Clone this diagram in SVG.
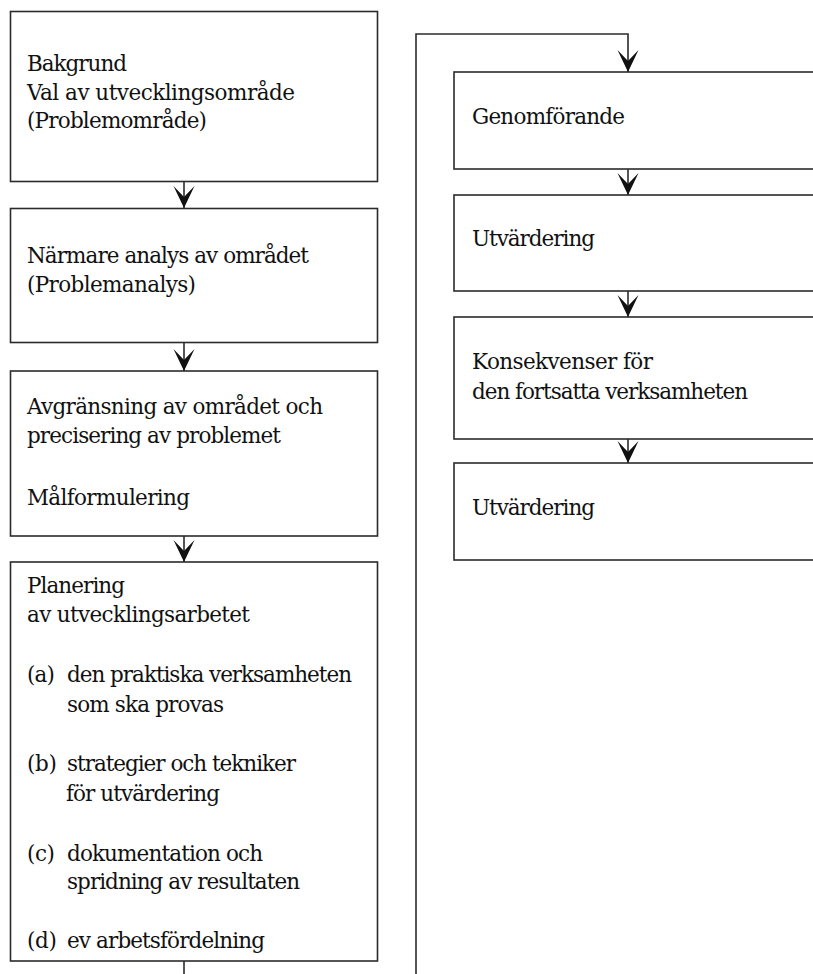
<svg xmlns="http://www.w3.org/2000/svg" width="813" height="974" viewBox="0 0 813 974">
  <style>
    .box { fill: #ffffff; stroke: #2b2b2b; stroke-width: 1.6; }
    .wire { fill: none; stroke: #2b2b2b; stroke-width: 1.6; }
    .lbl { font-family: 'DejaVu Serif', 'Liberation Serif', serif; font-size: 21.5px; fill: #111111; }
  </style>
  <defs>
    <marker id="head" markerUnits="userSpaceOnUse" viewBox="-23 -11 24 22" refX="0" refY="0" markerWidth="24" markerHeight="22" orient="auto">
      <path d="M0,0 L-22,-10.5 L-11,0 L-22,10.5 Z" fill="#111111"/>
    </marker>
  </defs>
  <rect width="813" height="974" fill="#ffffff"/>

  <!-- flow connectors -->
  <g id="connectors">
    <line class="wire" x1="184" y1="182" x2="184" y2="208" marker-end="url(#head)"/>
    <line class="wire" x1="184" y1="343" x2="184" y2="371" marker-end="url(#head)"/>
    <line class="wire" x1="184" y1="536" x2="184" y2="562" marker-end="url(#head)"/>
    <!-- loop from the planning box over to the right column -->
    <line class="wire" x1="184" y1="961" x2="184" y2="974"/>
    <polyline class="wire" points="416,974 416,34 628,34 628,72" marker-end="url(#head)"/>
    <line class="wire" x1="628" y1="169" x2="628" y2="195" marker-end="url(#head)"/>
    <line class="wire" x1="628" y1="291" x2="628" y2="317" marker-end="url(#head)"/>
    <line class="wire" x1="628" y1="439" x2="628" y2="463" marker-end="url(#head)"/>
  </g>

  <!-- left column -->
  <g id="bakgrund">
    <rect class="box" x="10.5" y="11.5" width="367" height="170"/>
    <text class="lbl" x="27" y="70.5" textLength="100" lengthAdjust="spacing">Bakgrund</text>
    <text class="lbl" x="27" y="99.5" textLength="268" lengthAdjust="spacing">Val av utvecklingsområde</text>
    <text class="lbl" x="27" y="128" textLength="180" lengthAdjust="spacing">(Problemområde)</text>
  </g>
  <g id="problemanalys">
    <rect class="box" x="10.5" y="208.5" width="367" height="134"/>
    <text class="lbl" x="27" y="263" textLength="282" lengthAdjust="spacing">Närmare analys av området</text>
    <text class="lbl" x="27" y="292" textLength="169" lengthAdjust="spacing">(Problemanalys)</text>
  </g>
  <g id="avgransning">
    <rect class="box" x="10.5" y="371" width="367" height="165"/>
    <text class="lbl" x="27" y="414" textLength="296" lengthAdjust="spacing">Avgränsning av området och</text>
    <text class="lbl" x="27" y="443" textLength="254" lengthAdjust="spacing">precisering av problemet</text>
    <text class="lbl" x="27" y="505" textLength="163" lengthAdjust="spacing">Målformulering</text>
  </g>
  <g id="planering">
    <rect class="box" x="10.5" y="562" width="367" height="399"/>
    <text class="lbl" x="27" y="593" textLength="98" lengthAdjust="spacing">Planering</text>
    <text class="lbl" x="27" y="622" textLength="223" lengthAdjust="spacing">av utvecklingsarbetet</text>
    <text class="lbl" x="27" y="682" textLength="28" lengthAdjust="spacing">(a)</text>
    <text class="lbl" x="67" y="682" textLength="285" lengthAdjust="spacing">den praktiska verksamheten</text>
    <text class="lbl" x="67" y="712" textLength="157" lengthAdjust="spacing">som ska provas</text>
    <text class="lbl" x="27" y="770.5" textLength="30" lengthAdjust="spacing">(b)</text>
    <text class="lbl" x="67" y="770.5" textLength="229" lengthAdjust="spacing">strategier och tekniker</text>
    <text class="lbl" x="66" y="800.5" textLength="154" lengthAdjust="spacing">för utvärdering</text>
    <text class="lbl" x="27" y="860.5" textLength="28" lengthAdjust="spacing">(c)</text>
    <text class="lbl" x="67" y="860.5" textLength="196" lengthAdjust="spacing">dokumentation och</text>
    <text class="lbl" x="67" y="889" textLength="233" lengthAdjust="spacing">spridning av resultaten</text>
    <text class="lbl" x="27" y="948" textLength="30" lengthAdjust="spacing">(d)</text>
    <text class="lbl" x="67" y="948" textLength="198" lengthAdjust="spacing">ev arbetsfördelning</text>
  </g>

  <!-- right column -->
  <g id="genomforande">
    <rect class="box" x="454" y="72" width="380" height="97"/>
    <text class="lbl" x="472" y="124" textLength="153" lengthAdjust="spacing">Genomförande</text>
  </g>
  <g id="utvardering-1">
    <rect class="box" x="454" y="195" width="380" height="96"/>
    <text class="lbl" x="472" y="246" textLength="123" lengthAdjust="spacing">Utvärdering</text>
  </g>
  <g id="konsekvenser">
    <rect class="box" x="454" y="317" width="380" height="122"/>
    <text class="lbl" x="472" y="368.5" textLength="181" lengthAdjust="spacing">Konsekvenser för</text>
    <text class="lbl" x="472" y="398.5" textLength="276" lengthAdjust="spacing">den fortsatta verksamheten</text>
  </g>
  <g id="utvardering-2">
    <rect class="box" x="454" y="463" width="380" height="97"/>
    <text class="lbl" x="472" y="515" textLength="123" lengthAdjust="spacing">Utvärdering</text>
  </g>
</svg>
